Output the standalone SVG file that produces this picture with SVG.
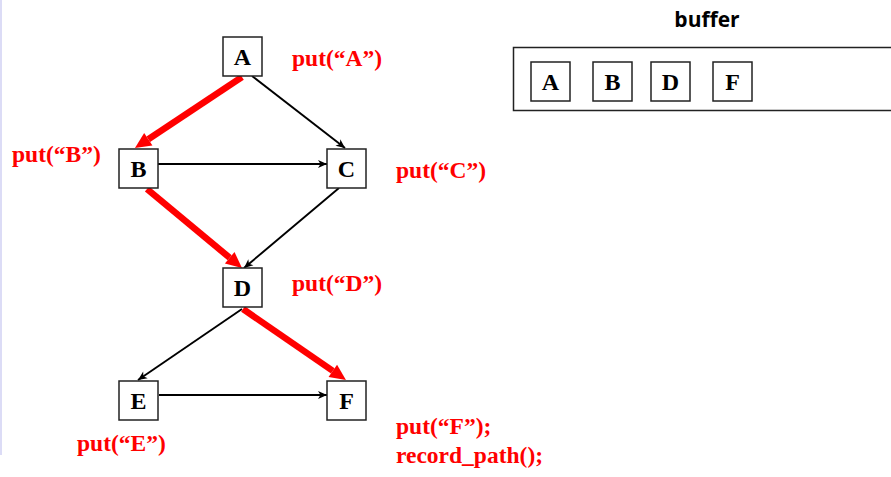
<svg xmlns="http://www.w3.org/2000/svg" width="891" height="477" viewBox="0 0 891 477">
<style>
.node rect{fill:#fff;stroke:#222;stroke-width:1.5}
.lbl{font-family:"Liberation Serif","Times New Roman",serif;font-weight:bold;font-size:24px;fill:#000;text-anchor:middle}
.put{font-family:"Liberation Serif","Times New Roman",serif;font-weight:bold;font-size:23.5px;fill:#ff0000}
.blk{stroke:#000;stroke-width:1.9;fill:none;marker-end:url(#ab)}
.red{stroke:#ff0000;stroke-width:6.5;fill:none;marker-end:url(#ar)}
.title{font-family:"Open Sans","DejaVu Sans",sans-serif;font-weight:bold;font-size:21px;fill:#000;text-anchor:middle}
</style>
<defs>
<marker id="ab" markerUnits="userSpaceOnUse" viewBox="-10 -5 11 10" refX="0" refY="0" markerWidth="11" markerHeight="10" orient="auto">
<path d="M-9,-4 L0,0 L-9,4 L-6.5,0 z" fill="#000"/>
</marker>
<marker id="ar" markerUnits="userSpaceOnUse" viewBox="-1 -8 18 16" refX="0" refY="0" markerWidth="18" markerHeight="16" orient="auto">
<path d="M0,-7.5 L16,0 L0,7.5 z" fill="#ff0000"/>
</marker>
</defs>
<rect x="0" y="0" width="2" height="455" fill="#dcdcf6"/>
<g id="connectors">
<path class="blk" d="M252,76 L345,148"/>
<path class="blk" d="M158,164 L327,164"/>
<path class="blk" d="M339,188 L244,268"/>
<path class="blk" d="M242,309 L138,380"/>
<path class="blk" d="M159,395 L327,395"/>
<path class="red" d="M242,77 L148.3,139.2"/>
<path class="red" d="M147,189 L229.7,257.8"/>
<path class="red" d="M243,309 L332.8,370.9"/>
</g>
<g id="node-A" class="node"><rect x="223" y="37" width="39" height="39"/><text class="lbl" x="242.5" y="65">A</text></g>
<g id="node-B" class="node"><rect x="119" y="149" width="39" height="39"/><text class="lbl" x="138.5" y="177">B</text></g>
<g id="node-C" class="node"><rect x="327" y="149" width="39" height="39"/><text class="lbl" x="346.5" y="177">C</text></g>
<g id="node-D" class="node"><rect x="223" y="268" width="39" height="39"/><text class="lbl" x="242.5" y="296">D</text></g>
<g id="node-E" class="node"><rect x="119" y="381" width="39" height="39"/><text class="lbl" x="138.5" y="409">E</text></g>
<g id="node-F" class="node"><rect x="327" y="381" width="39" height="39"/><text class="lbl" x="346.5" y="409">F</text></g>
<g id="labels">
<text class="put" x="292" y="66">put(“A”)</text>
<text class="put" x="12" y="162">put(“B”)</text>
<text class="put" x="396" y="178">put(“C”)</text>
<text class="put" x="292" y="291">put(“D”)</text>
<text class="put" x="77" y="451">put(“E”)</text>
<text class="put" x="396" y="434">put(“F”);</text>
<text class="put" x="396" y="463">record_path();</text>
</g>
<g id="buffer">
<text class="title" x="707" y="27">buffer</text>
<rect x="513.5" y="47.5" width="400" height="63" fill="#fff" stroke="#222" stroke-width="1.5"/>
<g id="buf-A" class="node"><rect x="531" y="62" width="39" height="39"/><text class="lbl" x="550.5" y="90">A</text></g>
<g id="buf-B" class="node"><rect x="593" y="62" width="39" height="39"/><text class="lbl" x="612.5" y="90">B</text></g>
<g id="buf-D" class="node"><rect x="651" y="62" width="39" height="39"/><text class="lbl" x="670.5" y="90">D</text></g>
<g id="buf-F" class="node"><rect x="713" y="62" width="39" height="39"/><text class="lbl" x="732.5" y="90">F</text></g>
</g>
</svg>
